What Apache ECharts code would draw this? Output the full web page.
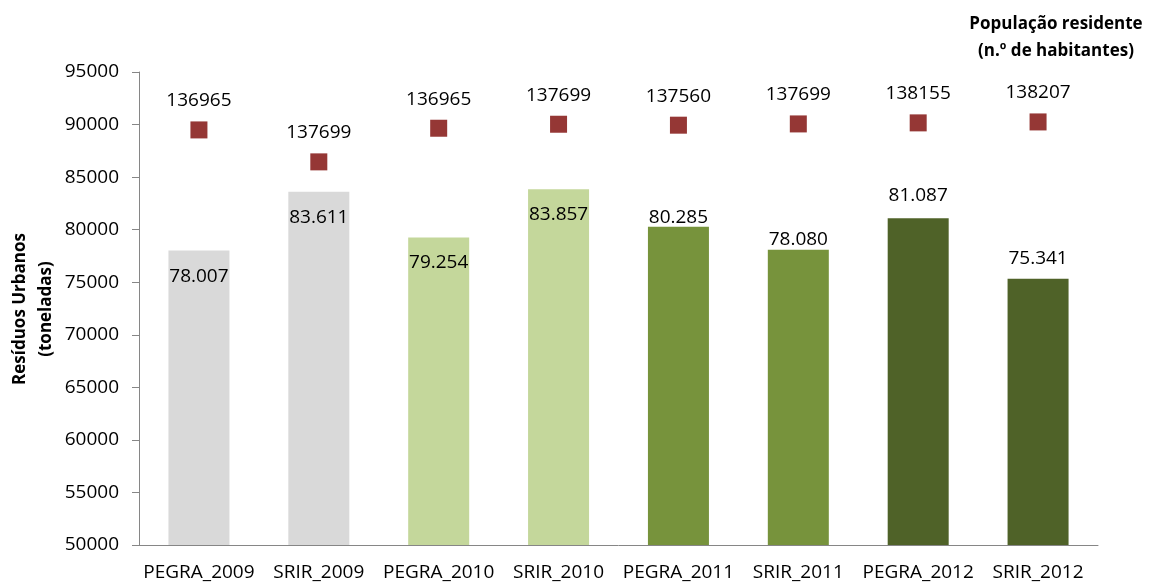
<!DOCTYPE html>
<html>
<head>
<meta charset="utf-8">
<script src="https://cdn.jsdelivr.net/npm/echarts@6/dist/echarts.min.js"></script>
<style>
  html, body { margin: 0; padding: 0; background: #fff; }
  #chart { width: 1151px; height: 585px; }
</style>
</head>
<body>
<div id="chart"></div>
<script>
// categorias e valores
const categories = ['PEGRA_2009', 'SRIR_2009', 'PEGRA_2010', 'SRIR_2010', 'PEGRA_2011', 'SRIR_2011', 'PEGRA_2012', 'SRIR_2012']
const residuos = [78007, 83611, 79254, 83857, 80285, 78080, 81087, 75341]
const populacao = [136965, 137699, 136965, 137699, 137560, 137699, 138155, 138207]
// altura a que os marcadores aparecem (na escala do eixo de resíduos)
const markerLevel = [89490, 86450, 89650, 90030, 89940, 90060, 90160, 90250]
const yTicks = { min: 50000, max: 95000, interval: 5000 }

const yearColors = ['#D9D9D9', '#D9D9D9', '#C4D79B', '#C4D79B', '#77933C', '#77933C', '#4F6228', '#4F6228']
// afastamento das etiquetas das barras (as 4 primeiras ficam dentro)
const labelGap = [16, 16, 16, 16, 0, 1, 13, 11]
const font = 'Open Sans'

function fmtDot(v) {
  return String(v).replace(/\B(?=(\d{3})+(?!\d))/g, '.')
}

const chart = echarts.init(document.getElementById('chart'))
chart.setOption({
  animation: false,
  textStyle: { fontFamily: font },
  grid: { left: 139, right: 53, top: 72, bottom: 40, outerBoundsMode: 'none', containLabel: false },
  graphic: [
    {
      type: 'text',
      style: {
        x: 1056, y: 11,
        text: 'População residente\n(n.º de habitantes)',
        textAlign: 'center',
        fontFamily: font,
        fontWeight: 'bold',
        fontSize: 17,
        lineHeight: 27,
        fill: '#000'
      }
    },
    {
      // título do eixo vertical
      type: 'text',
      x: 33, y: 309,
      rotation: Math.PI / 2,
      style: {
        text: 'Resíduos Urbanos\n(toneladas)',
        textAlign: 'center',
        textVerticalAlign: 'middle',
        fontFamily: font,
        fontWeight: 'bold',
        fontSize: 17,
        lineHeight: 26,
        fill: '#000'
      }
    }
  ],
  xAxis: {
    type: 'category',
    data: categories,
    axisTick: { show: false },
    axisLine: { lineStyle: { color: '#868686', width: 1 } },
    axisLabel: { color: '#000', fontSize: 19, margin: 18, interval: 0 }
  },
  yAxis: {
    type: 'value',
    min: yTicks.min,
    max: yTicks.max,
    interval: yTicks.interval,
    axisLine: { show: true, lineStyle: { color: '#868686', width: 1 } },
    axisTick: { show: true, length: 7, lineStyle: { color: '#868686' } },
    splitLine: { show: false },
    axisLabel: { color: '#000', fontSize: 19, margin: 20, formatter: v => String(v) }
  },
  series: [
    {
      name: 'Resíduos Urbanos',
      type: 'bar',
      barWidth: 61,
      data: residuos.map((v, i) => ({
        value: v,
        itemStyle: { color: yearColors[i] },
        label: { position: i < 4 ? 'insideTop' : 'top', distance: labelGap[i] }
      })),
      label: {
        show: true,
        color: '#000',
        fontSize: 19,
        formatter: p => fmtDot(p.value)
      }
    },
    {
      name: 'População residente',
      type: 'scatter',
      symbol: 'rect',
      symbolSize: 17,
      itemStyle: { color: '#953735', opacity: 1 },
      data: markerLevel,
      label: {
        show: true,
        position: 'top',
        distance: 11,
        color: '#000',
        fontSize: 19,
        formatter: p => String(populacao[p.dataIndex])
      }
    }
  ]
})
</script>
</body>
</html>
